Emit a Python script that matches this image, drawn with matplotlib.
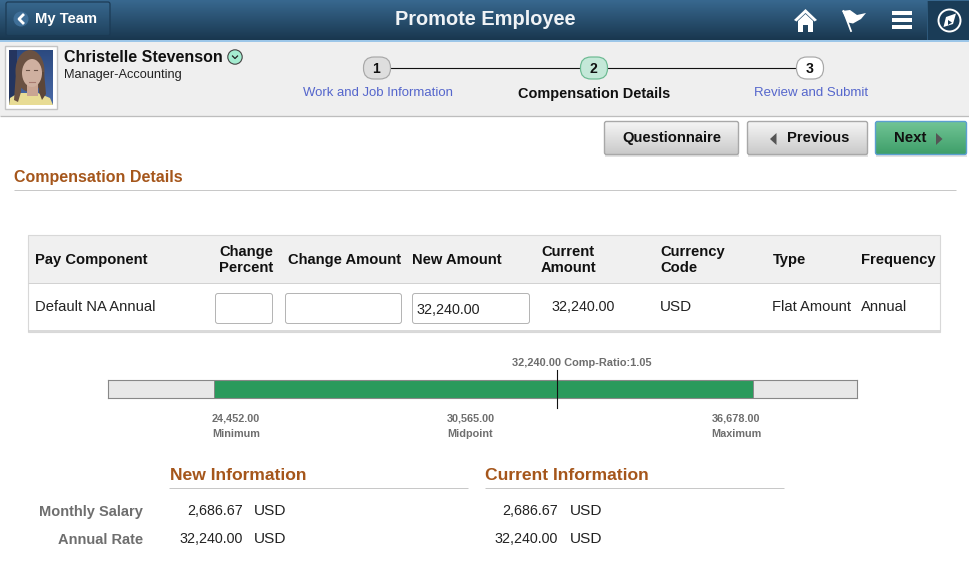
import numpy as np
import matplotlib
matplotlib.use('Agg')
import matplotlib.pyplot as plt
from matplotlib.patches import Rectangle, FancyBboxPatch, Polygon, Circle, Ellipse
from matplotlib.colors import LinearSegmentedColormap as LSC

plt.rcParams['font.family'] = ['Liberation Sans', 'DejaVu Sans']

# ---- data ----
range_labels = ['Minimum', 'Midpoint', 'Maximum']
range_values = [24452.00, 30565.00, 36678.00]
current_salary = 32240.00
comp_ratio = 1.05
scale_limits = [22034, 39050]
steps = ['Work and Job Information', 'Compensation Details', 'Review and Submit']
step_numbers = ['1', '2', '3']
table_row = ['Default NA Annual', '32,240.00', 'USD', 'Flat Amount', 'Annual']
info_rows = ['Monthly Salary', 'Annual Rate']
info_values = ['2,686.67', '32,240.00']
currency = 'USD'

W, H = 970, 583
fig = plt.figure(figsize=(W/100, H/100), dpi=100)
ax = fig.add_axes([0, 0, 1, 1])
ax.set_xlim(0, W); ax.set_ylim(H, 0); ax.axis('off')

PX = 0.72  # px -> pt

def grad(x0, y0, x1, y1, c0, c1, z=1, clip=None):
    cm = LSC.from_list('g', [c0, c1])
    im = ax.imshow(np.linspace(0, 1, 64)[:, None], extent=(x0, x1, y1, y0), cmap=cm,
                   aspect='auto', zorder=z, interpolation='bilinear')
    if clip is not None:
        im.set_clip_path(clip)
    return im

def rect(x0, y0, x1, y1, fc, ec='none', lw=0, z=2):
    ax.add_patch(Rectangle((x0, y0), x1-x0, y1-y0, fc=fc, ec=ec, lw=lw, zorder=z))

def hline(x0, x1, y, c='#c8c8c8', lw=1.0, z=3):
    ax.plot([x0, x1], [y - 0.5, y - 0.5], color=c, lw=lw*PX, zorder=z, solid_capstyle='butt')

def txt(x, y, s, size=14, color='#222222', bold=False, ha='left', va='center', z=6):
    ax.text(x, y + 1.2, s, fontsize=size*PX, color=color, fontweight='bold' if bold else 'normal',
            ha=ha, va=va, zorder=z)

def rbox(x0, y0, x1, y1, r, fc='white', ec='#b5b5b5', lw=1.0, z=4):
    p = FancyBboxPatch((x0+r, y0+r), x1-x0-2*r, y1-y0-2*r,
                       boxstyle=f'round,pad={r},rounding_size={r}', fc=fc, ec=ec, lw=lw*PX, zorder=z)
    ax.add_patch(p)
    return p

def gbutton(x0, y0, x1, y1, c0, c1, ec):
    ax.add_patch(Rectangle((x0+1, y0+2), x1-x0, y1-y0, fc='#e2e2e2', ec='none', zorder=3))
    p = rbox(x0, y0, x1, y1, 2, fc='none', ec=ec, lw=1.4, z=5)
    grad(x0, y0, x1, y1, c0, c1, z=4, clip=p)

# ---- header ----
grad(0, 0, W, 40, '#38688f', '#19374f', z=1)
rect(0, 40, W, 41.5, '#9cc6e8', z=2)
rect(0, 41.5, W, 116, '#efefef', z=1)
hline(0, W, 116.5, '#bdbdbd', 1.3)

p = rbox(6, 2, 110, 35.5, 2, fc='none', ec='#1b3a54', lw=1.2, z=3)
grad(6, 2, 110, 35.5, '#38688f', '#20435f', z=2, clip=p)
ax.add_patch(Circle((21, 19), 7.5, fc='#3f6f98', ec='none', zorder=4))
ax.plot([23, 19, 23], [15, 19, 23], color='white', lw=2.0, zorder=5)
txt(35, 18, 'My Team', 14.7, 'white', True)
txt(485, 18.5, 'Promote Employee', 20, '#f0f3f6', True, ha='center')

# home icon
ax.add_patch(Polygon([(794, 20), (805.5, 9), (817, 20), (814.5, 21.5), (805.5, 13), (796.5, 21.5)],
                     fc='white', ec='none', zorder=5))
ax.add_patch(Polygon([(798, 21), (805.5, 14), (813, 21), (813, 32), (808, 32), (808, 25), (803, 25), (803, 32), (798, 32)],
                     fc='white', ec='none', zorder=5))
# flag icon
ax.plot([843.5, 851], [11, 31], color='white', lw=1.3, zorder=5)
ax.add_patch(Polygon([(842, 11), (850, 10), (857, 15), (866, 13), (861, 19), (853, 23.5), (848, 22.5)],
                     fc='white', ec='none', zorder=5))
# menu icon
for y in (11, 17.7, 24.5):
    rect(892, y, 912, y+4.4, 'white', z=5)
# compass
rect(927, 1, W, 39.5, '#1a3c57', z=2)
ax.plot([927, 927], [1, 39], color='#2f5a7d', lw=0.7, zorder=3)
ax.add_patch(Circle((949.5, 20.5), 11, fc='none', ec='white', lw=1.4, zorder=5))
ax.add_patch(Polygon([(956, 13.5), (953, 24), (943.5, 27), (946, 17)], fc='white', ec='none', zorder=5))
ax.add_patch(Polygon([(948, 20), (952, 22.5), (948, 25)], fc='#1a3c57', ec='none', zorder=6))

# ---- photo ----
rect(5, 46, 57, 108.5, 'white', ec='#c4c4c4', lw=1.0, z=2)
grad(9, 50, 53, 105, '#2c4a80', '#4a6aa8', z=3)
rect(9, 50, 17, 105, '#24355f', z=3)
ax.add_patch(Polygon([(9, 105), (10, 98), (18, 93), (38, 93), (50, 98), (53, 105)], fc='#e8dc95', ec='none', zorder=4))
ax.add_patch(Ellipse((30, 71), 29, 42, fc='#6a5142', ec='none', zorder=4))
ax.add_patch(Polygon([(16, 72), (22, 72), (21, 92), (18, 102), (14, 100)], fc='#6a5142', ec='none', zorder=4))
ax.add_patch(Polygon([(38, 72), (44, 72), (46, 94), (42, 100), (39, 92)], fc='#5c4638', ec='none', zorder=4))
ax.add_patch(Ellipse((32, 73), 20, 28, fc='#cfb0a0', ec='none', zorder=5))
rect(27, 84, 38, 96, '#c9a593', z=4)
ax.plot([26.5, 29.5], [69.5, 69.5], color='#6a5246', lw=0.8, zorder=6)
ax.plot([34, 37], [69.5, 69.5], color='#6a5246', lw=0.8, zorder=6)
ax.plot([29, 35], [81.5, 81.5], color='#a87a70', lw=0.8, zorder=6)

txt(64.5, 56, 'Christelle Stevenson', 16, '#111111', True)
txt(64.5, 74, 'Manager-Accounting', 12.8, '#222222')
ax.add_patch(Circle((235, 57), 7.2, fc='#a4ecd0', ec='#444444', lw=0.8, zorder=5))
ax.plot([232.5, 235, 237.5], [56, 58.5, 56], color='#222222', lw=0.9, zorder=6)

# ---- steps ----
ax.plot([390, 798], [68, 68], color='#111111', lw=0.8, zorder=3)
sx = [377, 594, 810]
styles = [('#dedede', '#a8a8a8'), ('#c4e8d8', '#6cba92'), ('#ffffff', '#a8a8a8')]
for x, n, (fc, ec) in zip(sx, step_numbers, styles):
    rbox(x-13.5, 57, x+13.5, 79, 10.5, fc=fc, ec=ec, lw=1.2)
    txt(x-0.5, 67.5, n, 14, '#111111', True, ha='center')
txt(378, 92, steps[0], 13.1, '#5566cc', ha='center')
txt(594.5, 92.5, steps[1], 14.5, '#111111', True, ha='center')
txt(811, 92, steps[2], 13.2, '#5566cc', ha='center')

# ---- buttons ----
gbutton(604.5, 121.5, 738.5, 154.5, '#f6f6f6', '#cacaca', '#a8a8a8')
gbutton(747.5, 121.5, 867.5, 154.5, '#f6f6f6', '#cacaca', '#a8a8a8')
gbutton(875.5, 121.5, 966.5, 154.5, '#72c596', '#3f9f6a', '#5b9fd0')
txt(672, 136.5, 'Questionnaire', 14.7, '#111111', True, ha='center')
txt(787, 136.5, 'Previous', 14.7, '#111111', True)
txt(894, 136.5, 'Next', 15, '#111111', True)
ax.add_patch(Polygon([(776.5, 133), (776.5, 145), (770, 139)], fc='#555555', ec='none', zorder=6))
ax.add_patch(Polygon([(936, 133), (936, 145), (942.5, 139)], fc='#555555', ec='none', zorder=6))

# ---- section heading ----
txt(14, 176.5, 'Compensation Details', 16, '#a5561b', True)
hline(14, 956, 190.5)

# ---- table ----
rect(28, 234.5, 940.5, 283, '#f0f0f0', z=2)
ax.add_patch(Rectangle((28, 234.5), 912.5, 97, fc='none', ec='#d8d8d8', lw=0.8, zorder=3))
hline(28, 940.5, 283.5, '#d2d2d2', 1.0)
hline(28, 940.5, 331.5, '#d2d2d2', 1.6)
for x, y, s in [(35, 258.5, 'Pay Component'), (219, 250.5, 'Change'), (219, 266.5, 'Percent'),
                (288, 258.5, 'Change Amount'), (412, 258.5, 'New Amount'),
                (541, 250.5, 'Current'), (541, 266.5, 'Amount'),
                (660, 250.5, 'Currency'), (660, 266.5, 'Code'), (773, 258.5, 'Type'), (861, 258.5, 'Frequency')]:
    txt(x, y, s, 14.8, '#111111', True)
txt(35, 305.5, table_row[0], 14.8)
rbox(215.5, 293.5, 272.5, 323.5, 2.5)
rbox(285.5, 293.5, 401.5, 323.5, 2.5)
rbox(412.5, 293.5, 529.5, 323.5, 2.5)
txt(417, 308.5, '32,240.00', 14.4)
txt(551, 305.5, table_row[1], 14.3)
txt(660, 305.5, table_row[2], 15.2)
txt(772, 305.5, table_row[3], 14.8)
txt(861, 305.5, table_row[4], 14.8)

# ---- range bar: real data axes ----
bax = fig.add_axes([107.8/W, 1-398.3/H, (857.1-107.8)/W, 18.8/H])
bax.set_xlim(*scale_limits); bax.set_ylim(0, 1)
bax.set_xticks([]); bax.set_yticks([])
bax.set_facecolor('#e8e8e8')
for s in bax.spines.values():
    s.set_color('#888888'); s.set_linewidth(0.8)
bax.barh(0.5, range_values[2]-range_values[0], left=range_values[0], height=1.0, color='#2a9a5c',
         edgecolor='none', zorder=2)
for v in (range_values[0], range_values[2]):
    bax.axvline(v, color='#888888', lw=0.7, zorder=3)
bax.plot([current_salary, current_salary], [-0.5, 1.5], color='#111111', lw=0.8, clip_on=False, zorder=4)

GR = '#6e6e6e'
txt(582, 362, f'{current_salary:,.2f} Comp-Ratio:{comp_ratio}', 11, GR, True, ha='center')
for x, lab, v in zip([236, 470.5, 736], range_labels, range_values):
    txt(x, 417, f'{v:,.2f}', 10.9, GR, True, ha='center')
    txt(x, 433, lab, 10.9, GR, True, ha='center')

# ---- info blocks ----
txt(170, 474.5, 'New Information', 17.5, '#a5561b', True)
hline(169, 468, 488.5)
txt(485.5, 474.5, 'Current Information', 17.5, '#a5561b', True)
hline(485, 784, 488.5)
for y, lab in zip([510.5, 539], info_rows):
    txt(143, y, lab, 14.6, GR, True, ha='right')
for y, val in zip([509.5, 538], info_values):
    txt(243, y, val, 14.3, ha='right')
    txt(254, y, currency, 15.4)
for y, val in zip([509.5, 537.5], info_values):
    txt(558, y, val, 14.3, ha='right')
    txt(570, y, currency, 15.4)

ax.set_xlim(0, W); ax.set_ylim(H, 0)
fig.savefig('out.png', dpi=100)
